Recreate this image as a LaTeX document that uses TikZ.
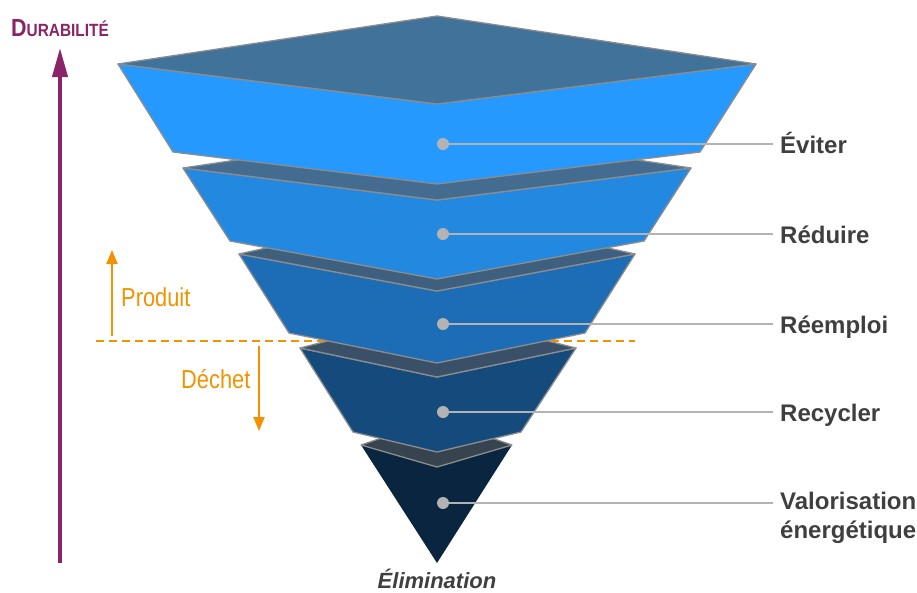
\documentclass[tikz,border=0pt]{standalone}
\usepackage{fontspec}
\setmainfont{Liberation Sans}
\newfontfamily\narrowfont{Liberation Sans}[FakeStretch=0.84]
\newfontfamily\titlefont{Liberation Sans}[FakeStretch=0.87]
\usetikzlibrary{arrows.meta}
\definecolor{purp}{HTML}{8A2468}
\definecolor{orng}{HTML}{F39200}
\definecolor{edgec}{HTML}{8C8C8C}
\definecolor{dotc}{HTML}{B3B3B3}
\definecolor{labc}{HTML}{3F3F3F}
\definecolor{bodyA}{HTML}{2699FF}
\definecolor{topA}{HTML}{41729A}
\definecolor{bodyB}{HTML}{2389E0}
\definecolor{topB}{HTML}{436C90}
\definecolor{bodyC}{HTML}{1C6DB5}
\definecolor{topC}{HTML}{3E5F7E}
\definecolor{bodyD}{HTML}{154B7C}
\definecolor{topD}{HTML}{3A5068}
\definecolor{bodyE}{HTML}{0A253F}
\definecolor{topE}{HTML}{37434F}
\begin{document}
\begin{tikzpicture}[x=1pt,y=-1pt,
  facet/.style={draw=edgec, line width=1.3pt, line join=round},
  dotnode/.style={circle, fill=dotc, minimum size=12pt, inner sep=0pt},
  leader/.style={draw=dotc, line width=1.8pt},
  lab/.style={anchor=base west, inner sep=0pt, text=labc, font=\bfseries\fontsize{24}{28}\selectfont},
  orlab/.style={anchor=base west, inner sep=0pt, text=orng, font=\narrowfont\fontsize{26}{28}\selectfont},
  orarrow/.style={draw=orng, line width=2.2pt, -{Triangle[length=14pt,width=11pt]}}]
\useasboundingbox (0,0) rectangle (917,592);

% Layer E
\fill[bodyE] (361,445) -- (437,467) -- (512,445) -- (437,563) -- cycle;
\filldraw[facet, fill=topE] (361,445) -- (437,419) -- (512,445) -- (437,467) -- cycle;
% Layer D
\filldraw[facet, fill=bodyD] (300,348) -- (437,377) -- (576,348) -- (521,432) -- (437,452) -- (353,432) -- cycle;
\filldraw[facet, fill=topD] (300,348) -- (437,313) -- (576,348) -- (437,377) -- cycle;
% dashed line
\coordinate (dl) at (96,341);
\coordinate (dr) at (635,341);
\draw[orng, line width=1.8pt, dash pattern=on 8pt off 5pt] (dl) -- (dr);
% Layer C
\filldraw[facet, fill=bodyC] (239,254) -- (437,291) -- (635,254) -- (585,333) -- (437,363) -- (289,333) -- cycle;
\filldraw[facet, fill=topC] (239,254) -- (437,210) -- (635,254) -- (437,291) -- cycle;
% Layer B
\filldraw[facet, fill=bodyB] (183,168) -- (437,200) -- (691,168) -- (644,241) -- (437,279) -- (230,241) -- cycle;
\filldraw[facet, fill=topB] (183,168) -- (437,130) -- (691,168) -- (437,200) -- cycle;
% Layer A
\filldraw[facet, fill=bodyA] (118,64) -- (437,104) -- (756,64) -- (700,152) -- (437,184) -- (173,152) -- cycle;
\filldraw[facet, fill=topA] (118,64) -- (437,16) -- (756,64) -- (437,104) -- cycle;

% dots, leaders, labels
\node[dotnode] (d1) at (443,144) {};
\node[dotnode] (d2) at (443,234) {};
\node[dotnode] (d3) at (443,324) {};
\node[dotnode] (d4) at (443,412) {};
\node[dotnode] (d5) at (443,503) {};
\coordinate (e1) at (773,144);
\coordinate (e2) at (773,234);
\coordinate (e3) at (773,324);
\coordinate (e4) at (773,412);
\coordinate (e5) at (773,503);
\draw[leader] (d1) -- (e1);
\draw[leader] (d2) -- (e2);
\draw[leader] (d3) -- (e3);
\draw[leader] (d4) -- (e4);
\draw[leader] (d5) -- (e5);
\node[lab] (l1) at (780,153.5) {Éviter};
\node[lab] (l2) at (780,243.5) {Réduire};
\node[lab] (l3) at (780,333.5) {Réemploi};
\node[lab] (l4) at (780,421.5) {Recycler};
\node[lab] (l5) at (780,509.5) {Valorisation};
\node[lab] (l6) at (780,538.5) {énergétique};

\node[anchor=base, inner sep=0pt, text=labc, font=\bfseries\itshape\fontsize{22}{24}\selectfont] (elim) at (437,588) {Élimination};

% durability
\coordinate (pb) at (60,563);
\coordinate (pt) at (60,48);
\draw[purp, line width=4pt, -{Triangle[length=29pt,width=15pt]}] (pb) -- (pt);
\node[anchor=base west, inner sep=0pt, text=purp] (title) at (11,36) {\titlefont\bfseries\fontsize{24.7}{26}\selectfont D\fontsize{17.7}{20}\selectfont URABILITÉ};

% produit / dechet
\coordinate (p0) at (112,336);
\coordinate (p1) at (112,250);
\draw[orarrow] (p0) -- (p1);
\coordinate (q0) at (259,346);
\coordinate (q1) at (259,431);
\draw[orarrow] (q0) -- (q1);
\node[orlab] (prod) at (121,306.5) {Produit};
\node[orlab] (dech) at (181,388) {Déchet};
\end{tikzpicture}
\end{document}
